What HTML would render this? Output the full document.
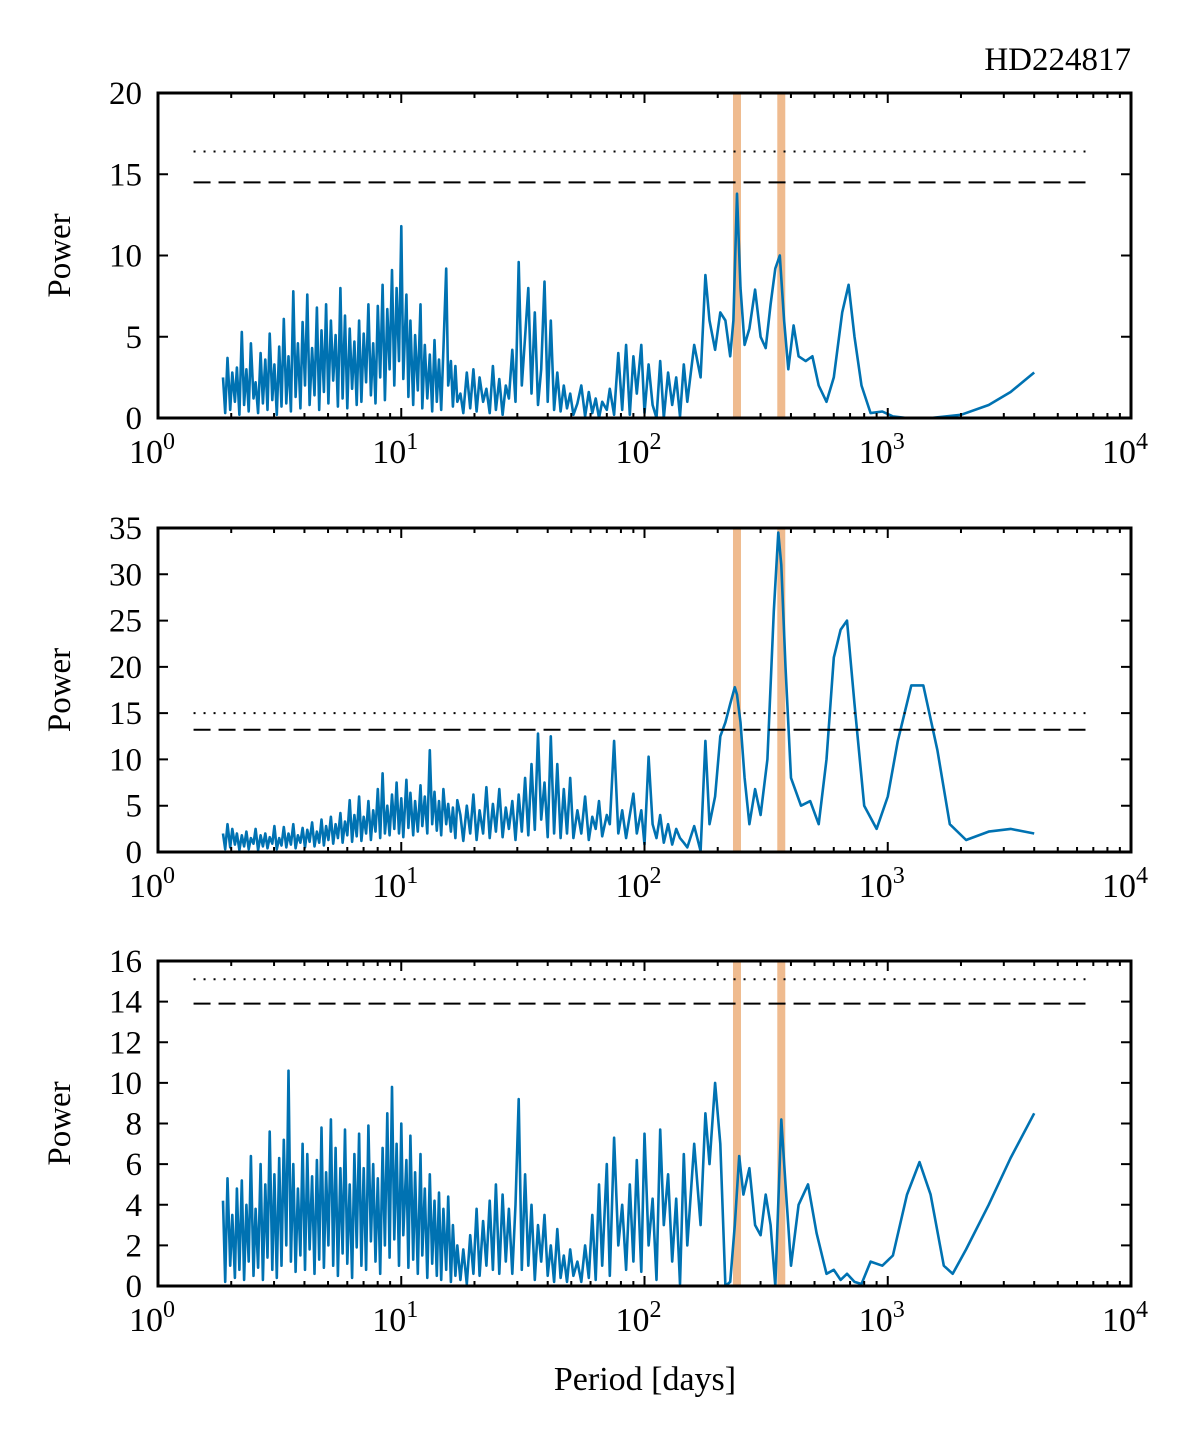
<!DOCTYPE html>
<html><head><meta charset="utf-8"><style>
body{margin:0;background:#fff}
svg{display:block;font-family:"Liberation Serif",serif}
</style></head><body>
<svg id="chart" width="1200" height="1444" viewBox="0 0 1200 1444" xmlns="http://www.w3.org/2000/svg">
<text x="1131" y="70" font-size="33" text-anchor="end">HD224817</text>
<text x="645" y="1390" font-size="34" text-anchor="middle">Period [days]</text>
</svg>
<script>
const noisePeriods=[1.85,1.89,1.93,1.98,2.02,2.07,2.11,2.16,2.21,2.26,2.31,2.36,2.41,2.47,2.52,2.58,2.64,2.70,2.76,2.82,2.88,2.95,3.01,3.08,3.15,3.22,3.29,3.37,3.44,3.52,3.60,3.68,3.76,3.85,3.93,4.02,4.11,4.20,4.30,4.40,4.50,4.60,4.70,4.81,4.91,5.02,5.14,5.25,5.37,5.49,5.62,5.74,5.87,6.00,6.14,6.28,6.42,6.56,6.71,6.86,7.01,7.17,7.33,7.50,7.67,7.84,8.01,8.19,8.38,8.57,8.76,8.96,9.16,9.36,9.57,9.79,10.0,10.2,10.5,10.7,10.9,11.2,11.4,11.7,12.0,12.2,12.5,12.8,13.1,13.4,13.7,14.0,14.3,14.6,14.9,15.3,15.6,16.0,16.3,16.7,17.0];
const midPeriods=[17.5,18,18.6,19.2,19.8,20.4,21,21.7,22.4,23.1,23.8,24.5,25.3,26.1,26.9,27.7,28.6,29.5,30.4,31.3,32.3,33.3,34.3,35.4,36.5,37.6,38.8,40,41.2,42.5,43.8,45.2,46.6,48,49.5,51,53,55,57,59,61,63,65,67,70,72,75,78,81,84,87,90,93,97,100,104,108,112,116,120,125,130,135,140,145,150,160,170];

const p1Noise=[2.5,0.3,3.7,0.5,2.8,1.0,3.1,0.2,5.3,0.8,3.0,0.4,4.6,1.2,2.2,0.3,4.0,0.9,3.6,0.5,5.2,1.1,3.3,0.2,4.4,0.7,6.1,0.9,3.8,0.4,7.8,1.3,4.6,0.6,5.9,2.0,7.6,0.8,4.3,1.4,6.8,0.5,5.4,1.6,7.0,0.9,6.0,2.3,5.1,0.7,8.0,1.2,6.3,0.6,5.5,1.8,4.7,0.8,6.0,1.0,5.2,2.2,7.0,1.4,4.6,0.9,6.9,2.5,8.2,1.1,6.7,3.0,9.1,2.0,8.0,3.5,11.8,2.4,7.6,1.3,6.0,0.8,5.1,1.7,7.0,0.6,4.5,1.2,3.9,0.4,4.8,1.0,3.6,0.5,4.2,9.2,2.0,3.5,0.7,3.2,1.0];
const p1Mid=[1.5,0.3,2.8,0.6,3.0,0.4,2.5,1.0,1.8,0.3,3.2,0.5,2.4,0.2,2.0,1.2,4.2,1.0,9.6,2.0,5.0,8.0,1.5,6.5,0.8,3.0,8.4,1.0,6.0,0.5,2.8,0.4,2.0,0.6,1.5,0.2,0.9,2.0,0.1,1.6,0.3,1.2,0.0,1.0,0.5,1.8,0.2,4.0,0.5,4.5,0.2,3.8,1.5,4.5,0.3,3.3,0.8,0,3.5,0,2.8,0.8,2.5,0.1,3.3,1.0,4.5,2.5];
const p1SmoothPeriods=[178,185,195,205,215,225,232,240,248,258,270,285,300,315,330,345,360,375,390,410,430,460,490,520,560,600,650,690,730,780,850,950,1050,1200,1500,2000,2600,3200,4000];
const p1Smooth=[8.8,6,4.2,6.5,6,3.8,6,13.8,8,4.5,5.5,7.9,5,4.3,7,9.2,10,6,3,5.7,3.8,3.5,3.8,2,1,2.5,6.5,8.2,5,2,0.3,0.4,0.1,0,0,0.2,0.8,1.6,2.8];

const p2Noise=[2.0,0.3,3.0,0.5,2.5,0.8,2.0,0.2,1.8,0.6,2.2,0.3,1.5,0.9,2.5,0.2,1.8,0.6,2.0,0.4,1.6,0.9,2.8,0.3,1.5,0.7,2.7,0.5,2.0,0.8,3.0,0.4,1.8,1.0,2.6,0.5,2.4,1.1,3.2,0.6,2.2,1.0,3.5,0.7,2.8,1.3,3.8,0.9,3.0,1.5,4.2,1.0,3.3,1.8,5.6,1.1,4.0,1.7,6.0,1.2,3.8,2.0,5.5,1.3,4.5,2.2,6.8,1.5,8.5,2.0,5.0,1.8,6.2,2.5,7.5,2.0,5.8,1.6,7.8,2.6,6.4,1.8,5.5,2.2,7.2,2.8,6.0,2.0,11.0,3.0,6.5,2.3,5.5,1.8,6.8,3.0,5.2,2.2,4.8,1.5,5.6];
const p2Mid=[4.0,1.2,5.0,2.0,6.2,1.3,4.5,2.0,7.0,1.5,5.2,2.2,6.8,1.6,4.8,2.5,5.5,1.3,6.2,2.2,8.0,1.8,9.5,2.4,12.8,3.5,7.5,1.6,12.5,2.0,9.5,1.5,6.8,2.0,8.0,1.5,4.5,2.0,6.0,1.3,3.8,2.5,5.5,1.7,4.0,3.0,12.0,2.0,4.5,1.5,4.0,6.3,2.0,4.5,0.8,10.3,3.0,1.5,4.0,1.0,3.0,0.8,2.5,1.5,1.0,0.5,2.8,0.1];
const p2SmoothPeriods=[178,185,195,205,215,225,235,240,248,258,270,285,300,320,340,355,365,380,400,440,480,520,560,600,640,680,730,800,900,1000,1100,1250,1400,1600,1800,2100,2600,3200,4000];
const p2Smooth=[12,3,6,12.5,14,16,17.8,17,14,8,3,6.8,4,10,26,34.5,31,20,8,5,5.5,3,10,21,24,25,16,5,2.5,6,12,18,18,11,3,1.3,2.2,2.5,2];

const p3Noise=[4.2,0.2,5.3,1.0,3.5,0.4,4.8,0.8,5.2,0.3,4.0,1.2,6.4,0.5,3.8,0.9,6.0,0.3,5.0,1.4,7.6,0.8,5.5,0.4,6.3,1.0,7.2,2.0,10.6,1.2,6.0,0.7,4.8,1.5,7.0,0.8,6.5,1.8,5.4,0.6,6.2,1.3,7.8,0.9,5.6,2.0,8.2,1.0,6.8,0.5,5.8,1.6,7.7,1.1,5.0,0.4,6.5,1.9,7.5,1.0,5.8,0.8,7.9,2.2,6.0,1.2,5.3,0.6,6.8,2.0,8.5,1.4,9.8,2.3,7.0,1.0,8.0,2.5,6.2,0.9,7.4,1.3,5.6,0.6,6.5,1.5,4.8,0.4,5.5,1.1,4.2,0.5,4.6,0.3,3.8,0.8,4.4,0.2,3.0,0.5,2.0];
const p3Mid=[0.3,1.8,0.1,2.5,0.6,3.8,0.5,3.2,1.0,4.2,0.8,5.0,0.6,4.5,1.2,3.8,0.6,4.0,9.2,0.8,5.5,1.0,4.0,0.3,3.0,1.2,3.5,0.5,2.0,0.2,2.8,0.4,1.5,0.2,1.8,0.5,1.2,0.2,2.0,0.4,3.5,0.3,5.0,1.0,6.0,0.5,7.3,2.0,4.0,0.8,5.0,1.2,6.2,0.7,7.5,2.0,4.3,0.3,7.7,3.0,5.5,1.2,4.3,0.1,6.5,2.0,7.0,3.0];
const p3SmoothPeriods=[178,185,195,205,215,225,235,245,255,270,285,300,315,330,345,365,380,400,430,470,510,560,600,640,680,730,780,850,950,1050,1200,1350,1500,1700,1850,2100,2600,3200,4000];
const p3Smooth=[8.5,6,10,7,0,0.2,3,6.4,4.5,5.8,3,2.5,4.5,3,0,8.2,5,1,4,5,2.6,0.6,0.8,0.3,0.6,0.2,0.1,1.2,1,1.5,4.5,6.1,4.5,1.0,0.6,1.8,4,6.3,8.5];

const yMaxes=[20,35,16];
const yTickSteps=[5,5,2];
const dottedLevels=[16.4,15.0,15.1];
const dashedLevels=[14.5,13.2,13.9];
const bandPeriods=[240,365];
const xDecades=[0,1,2,3,4];

const NS="http://www.w3.org/2000/svg";
const svg=document.getElementById('chart');
const X0=158,X1=1131;
const tops=[93,528,961],bots=[418,852,1286];
function mk(tag,attrs,parent){const e=document.createElementNS(NS,tag);for(const k in attrs)e.setAttribute(k,attrs[k]);(parent||svg).appendChild(e);return e;}
const xs=p=>X0+Math.log10(p)/4*(X1-X0);

const panels=[[p1Noise,p1Mid,p1SmoothPeriods,p1Smooth],[p2Noise,p2Mid,p2SmoothPeriods,p2Smooth],[p3Noise,p3Mid,p3SmoothPeriods,p3Smooth]];
panels.forEach((pd,i)=>{
  const T=tops[i],B=bots[i],ymax=yMaxes[i];
  const ys=v=>B-v/ymax*(B-T);
  const g=mk('g',{});
  
  
  bandPeriods.forEach((bp,j)=>{
    const r=mk('rect',{x:xs(bp)-4,y:T,width:8,height:B-T,fill:'#efbb8f'},g);
    
    
  });
  const pts=[];
  const addSeg=(per,val)=>{const n=Math.min(per.length,val.length);for(let k=0;k<n;k++)pts.push(xs(per[k]).toFixed(1)+','+ys(val[k]).toFixed(1));};
  addSeg(noisePeriods,pd[0]);addSeg(midPeriods,pd[1]);addSeg(pd[2],pd[3]);
  const line=mk('polyline',{points:pts.join(' '),fill:'none',stroke:'#0072b2','stroke-width':2.6,'stroke-linejoin':'round'},g);
  
  
  const dl=mk('line',{x1:xs(1.4),x2:xs(6500),y1:ys(dottedLevels[i]),y2:ys(dottedLevels[i]),stroke:'#000','stroke-width':2,'stroke-dasharray':'2 8'},g);
  
  
  const dd=mk('line',{x1:xs(1.4),x2:xs(6500),y1:ys(dashedLevels[i]),y2:ys(dashedLevels[i]),stroke:'#000','stroke-width':2,'stroke-dasharray':'17 8'},g);
  
  
  let tk='';
  for(let d=0;d<4;d++){for(let m=1;m<=9;m++){const x=xs(m*Math.pow(10,d));const L=m==1?10:5;tk+=`M${x},${B}v${-L}M${x},${T}v${L}`;}}
  for(let v=0;v<=ymax;v+=yTickSteps[i]){const y=ys(v);tk+=`M${X0},${y}h10M${X1},${y}h-10`;
    const t=mk('text',{x:142,y:y+11,'font-size':33,'text-anchor':'end'},g);t.textContent=v;
    
    }
  mk('path',{d:tk,stroke:'#000','stroke-width':2,fill:'none'},g);
  xDecades.forEach(d=>{
    const t=mk('text',{x:xs(Math.pow(10,d))-6,y:B+45,'font-size':34,'text-anchor':'middle'},g);
    
    
    t.textContent='10';
    const s=mk('tspan',{dy:-14,'font-size':24},t);s.textContent=d;
  });
  const fr=mk('rect',{x:X0,y:T,width:X1-X0,height:B-T,fill:'none',stroke:'#000','stroke-width':3},g);
  
  
  const yl=mk('text',{x:0,y:0,'font-size':33,'text-anchor':'middle',transform:`translate(70,${(T+B)/2}) rotate(-90)`},g);
  yl.textContent='Power';
  
  
});
</script>
</body></html>
